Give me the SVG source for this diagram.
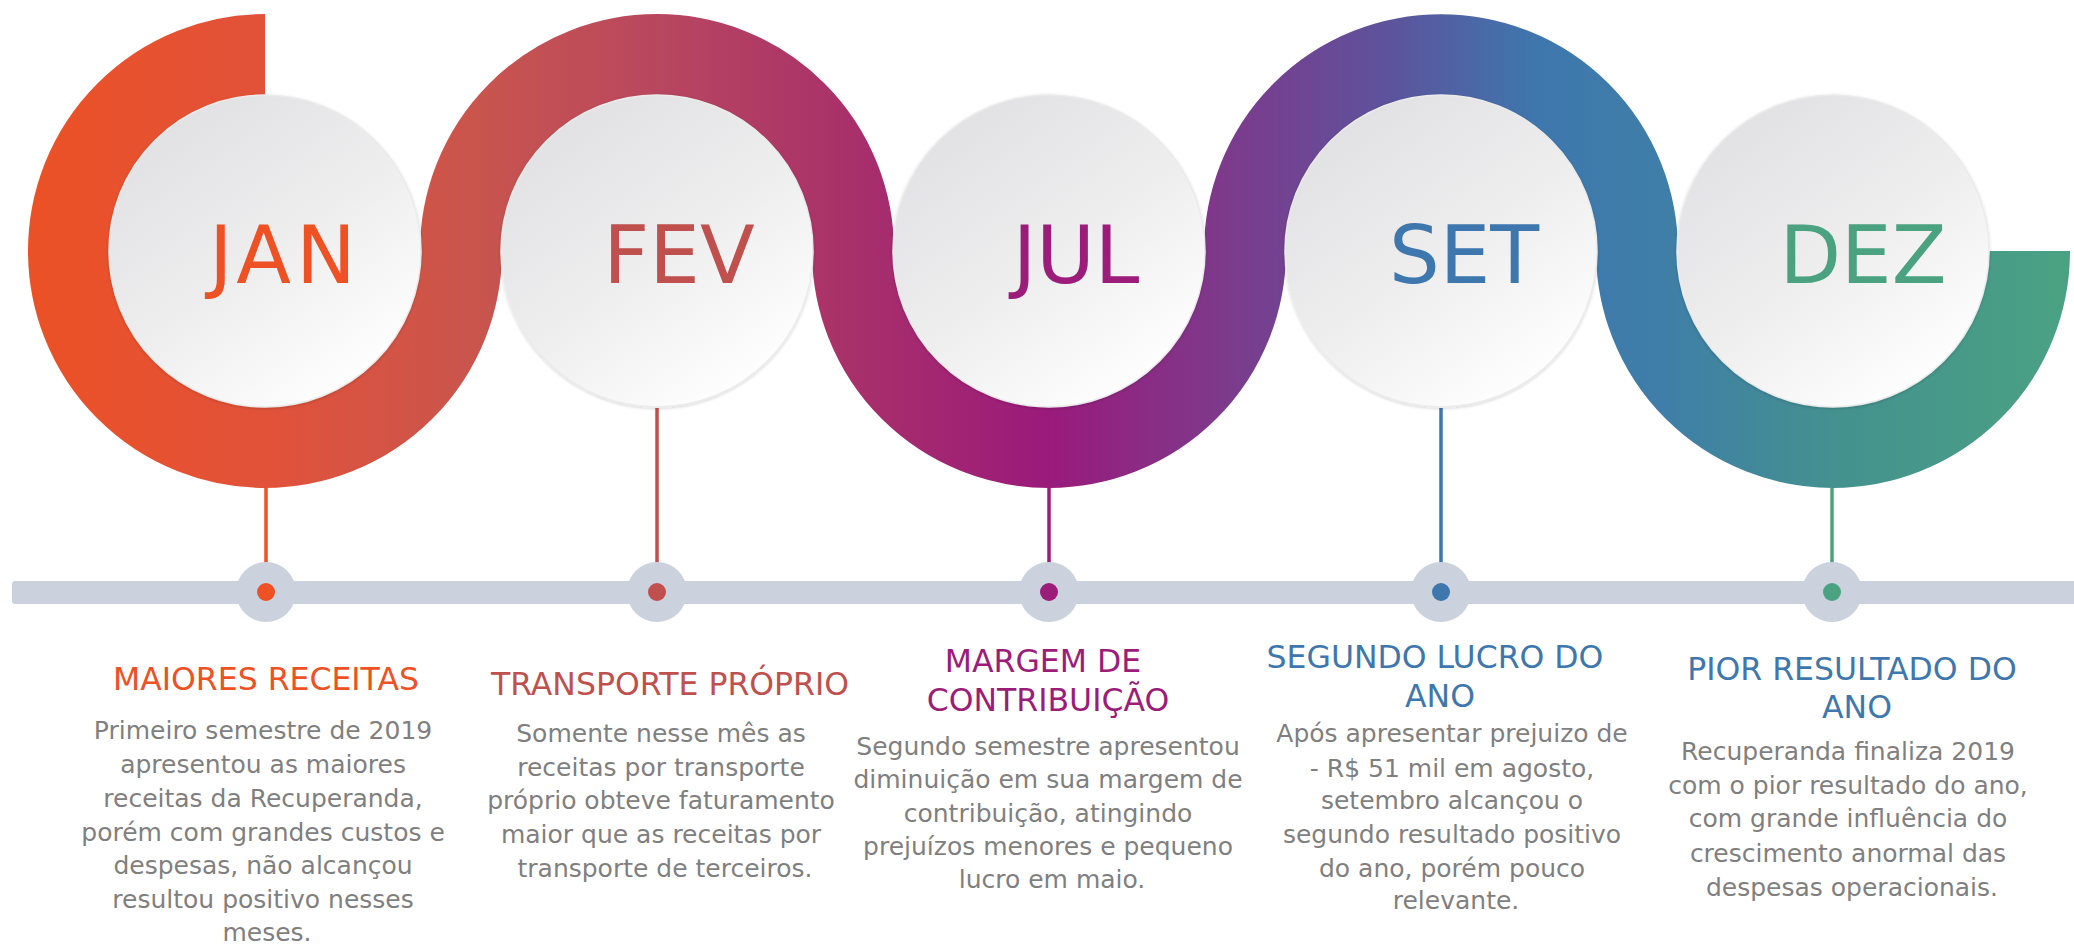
<svg xmlns="http://www.w3.org/2000/svg" width="2074" height="944" viewBox="0 0 2074 944">
  <defs>
    <linearGradient id="band" gradientUnits="userSpaceOnUse" x1="24" y1="0" x2="2070" y2="0">
      <stop offset="0" stop-color="#EC5125"/>
      <stop offset="0.12" stop-color="#E1523A"/>
      <stop offset="0.22" stop-color="#C9554D"/>
      <stop offset="0.31" stop-color="#B8475F"/>
      <stop offset="0.405" stop-color="#A8306A"/>
      <stop offset="0.50" stop-color="#9A1A7B"/>
      <stop offset="0.59" stop-color="#7C3B8C"/>
      <stop offset="0.665" stop-color="#5E529C"/>
      <stop offset="0.74" stop-color="#3E77AD"/>
      <stop offset="0.80" stop-color="#3F7EA8"/>
      <stop offset="0.885" stop-color="#44918F"/>
      <stop offset="1" stop-color="#4AA282"/>
    </linearGradient>
    <linearGradient id="disc" x1="0.2" y1="0.1" x2="0.8" y2="0.95">
      <stop offset="0" stop-color="#E2E2E4"/>
      <stop offset="0.5" stop-color="#EEEEEF"/>
      <stop offset="1" stop-color="#FFFFFF"/>
    </linearGradient>
    <filter id="shadow" x="-10%" y="-10%" width="120%" height="120%">
      <feDropShadow dx="0" dy="1" stdDeviation="1.5" flood-color="#000000" flood-opacity="0.18"/>
    </filter>
  </defs>
  <style>
    .disc { fill: url(#disc); stroke: #EBEBEB; stroke-width: 1.5; filter: url(#shadow); }
    .month { font-family: "DejaVu Sans", sans-serif; font-size: 80px; text-anchor: middle; }
    .head { font-family: "DejaVu Sans", sans-serif; font-size: 31.5px; text-anchor: middle; }
    .body { font-family: "DejaVu Sans", sans-serif; font-size: 25px; text-anchor: middle; fill: #7F7F7F; }
    .stem { stroke-width: 3.5; fill: none; }
    .halo { fill: #CBD2DE; }
  </style>

  <g id="band-ribbon">
    <path d="M265,55 A196,196 0 1 0 461,251 A196,196 0 0 1 853,251 A196,196 0 0 0 1245,251 A196,196 0 0 1 1637,251 A196,196 0 0 0 2029,251" fill="none" stroke="url(#band)" stroke-width="82"/>
  </g>

  <g id="timeline-bar">
    <rect x="12" y="581" width="2070" height="23" rx="3" fill="#CBD2DE"/>
  </g>

  <g id="connectors">
    <line class="stem" x1="266" y1="488" x2="266" y2="592" stroke="#EE5124"/>
    <line class="stem" x1="657" y1="408" x2="657" y2="592" stroke="#C0504D"/>
    <line class="stem" x1="1049" y1="488" x2="1049" y2="592" stroke="#9C1C7A"/>
    <line class="stem" x1="1441" y1="408" x2="1441" y2="592" stroke="#3E77AD"/>
    <line class="stem" x1="1832" y1="488" x2="1832" y2="592" stroke="#4AA281"/>
  </g>

  <g id="node-jan">
    <circle class="disc" cx="265" cy="251" r="156"/>
    <text class="month" x="285" y="283" fill="#EE5124" letter-spacing="5">JAN</text>
    <circle class="halo" cx="266" cy="592" r="30"/>
    <circle cx="266" cy="592" r="9" fill="#EE5124"/>
    <text class="head" x="266" y="690" fill="#EE5124">MAIORES RECEITAS</text>
    <text class="body" x="267">
      <tspan x="267" y="739">Primeiro semestre de 2019</tspan>
      <tspan x="267" y="773">apresentou as maiores</tspan>
      <tspan x="267" y="807">receitas da Recuperanda,</tspan>
      <tspan x="267" y="841">porém com grandes custos e</tspan>
      <tspan x="267" y="874">despesas, não alcançou</tspan>
      <tspan x="267" y="908">resultou positivo nesses</tspan>
      <tspan x="267" y="941">meses.</tspan>
    </text>
  </g>

  <g id="node-fev">
    <circle class="disc" cx="657" cy="251" r="156"/>
    <text class="month" x="679" y="283" fill="#C0504D">FEV</text>
    <circle class="halo" cx="657" cy="592" r="30"/>
    <circle cx="657" cy="592" r="9" fill="#C0504D"/>
    <text class="head" x="670" y="695" fill="#C0504D">TRANSPORTE PRÓPRIO</text>
    <text class="body" x="665">
      <tspan x="665" y="742">Somente nesse mês as</tspan>
      <tspan x="665" y="776">receitas por transporte</tspan>
      <tspan x="665" y="809">próprio obteve faturamento</tspan>
      <tspan x="665" y="843">maior que as receitas por</tspan>
      <tspan x="665" y="877">transporte de terceiros.</tspan>
    </text>
  </g>

  <g id="node-jul">
    <circle class="disc" cx="1049" cy="251" r="156"/>
    <text class="month" x="1076" y="283" fill="#9C1C7A">JUL</text>
    <circle class="halo" cx="1049" cy="592" r="30"/>
    <circle cx="1049" cy="592" r="9" fill="#9C1C7A"/>
    <text class="head" x="1048" fill="#9C1C7A">
      <tspan x="1048" y="672">MARGEM DE</tspan>
      <tspan x="1048" y="711">CONTRIBUIÇÃO</tspan>
    </text>
    <text class="body" x="1052">
      <tspan x="1052" y="755">Segundo semestre apresentou</tspan>
      <tspan x="1052" y="788">diminuição em sua margem de</tspan>
      <tspan x="1052" y="822">contribuição, atingindo</tspan>
      <tspan x="1052" y="855">prejuízos menores e pequeno</tspan>
      <tspan x="1052" y="888">lucro em maio.</tspan>
    </text>
  </g>

  <g id="node-set">
    <circle class="disc" cx="1441" cy="251" r="156"/>
    <text class="month" x="1464" y="283" fill="#3E77AD">SET</text>
    <circle class="halo" cx="1441" cy="592" r="30"/>
    <circle cx="1441" cy="592" r="9" fill="#3E77AD"/>
    <text class="head" x="1440" fill="#3E77AD">
      <tspan x="1440" y="668">SEGUNDO LUCRO DO</tspan>
      <tspan x="1440" y="707">ANO</tspan>
    </text>
    <text class="body" x="1456">
      <tspan x="1456" y="742">Após apresentar prejuizo de</tspan>
      <tspan x="1456" y="777">- R$ 51 mil em agosto,</tspan>
      <tspan x="1456" y="809">setembro alcançou o</tspan>
      <tspan x="1456" y="843">segundo resultado positivo</tspan>
      <tspan x="1456" y="877">do ano, porém pouco</tspan>
      <tspan x="1456" y="909">relevante.</tspan>
    </text>
  </g>

  <g id="node-dez">
    <circle class="disc" cx="1833" cy="251" r="156"/>
    <text class="month" x="1863" y="283" fill="#4AA281">DEZ</text>
    <circle class="halo" cx="1832" cy="592" r="30"/>
    <circle cx="1832" cy="592" r="9" fill="#4AA281"/>
    <text class="head" x="1857" fill="#3E77AD">
      <tspan x="1857" y="680">PIOR RESULTADO DO</tspan>
      <tspan x="1857" y="718">ANO</tspan>
    </text>
    <text class="body" x="1852">
      <tspan x="1852" y="760">Recuperanda finaliza 2019</tspan>
      <tspan x="1852" y="794">com o pior resultado do ano,</tspan>
      <tspan x="1852" y="827">com grande influência do</tspan>
      <tspan x="1852" y="862">crescimento anormal das</tspan>
      <tspan x="1852" y="896">despesas operacionais.</tspan>
    </text>
  </g>
</svg>
